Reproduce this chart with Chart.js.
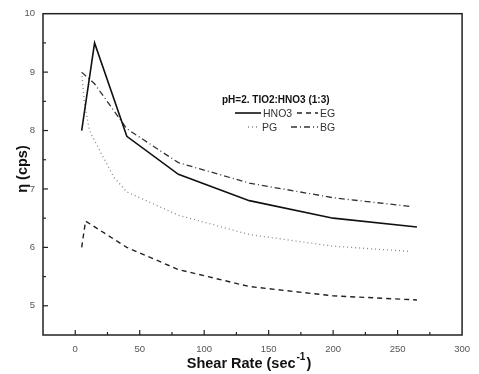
<!DOCTYPE html>
<html><head><meta charset="utf-8">
<script src="https://cdn.jsdelivr.net/npm/chart.js@4"></script>
<style>html,body{margin:0;padding:0;background:#fff}#wrap{width:479px;height:374px;position:relative}</style>
</head><body><div id="wrap"><canvas id="c" width="479" height="374"></canvas></div>
<script>
const hno3X = [5, 15, 40, 80, 135, 200, 265];
const hno3Y = [8.0, 9.5, 7.9, 7.25, 6.8, 6.5, 6.35];
const egX = [5, 8, 40, 80, 135, 200, 265];
const egY = [6.0, 6.45, 6.0, 5.62, 5.33, 5.17, 5.1];
const pgX = [5, 7, 11, 18, 30, 40, 80, 135, 200, 260];
const pgY = [9.0, 8.5, 8.0, 7.7, 7.2, 6.95, 6.55, 6.22, 6.02, 5.93];
const bgX = [5, 15, 40, 80, 135, 200, 260];
const bgY = [9.0, 8.8, 8.03, 7.45, 7.1, 6.85, 6.7];
const xTicks = [0, 50, 100, 150, 200, 250, 300];
const yTicks = [5, 6, 7, 8, 9, 10];
const legendTitle = 'pH=2. TIO2:HNO3 (1:3)';
const seriesNames = ['HNO3', 'EG', 'PG', 'BG'];

function pts(xs, ys){ return xs.map((x,i)=>({x:x, y:ys[i]})); }
const styles = [
  {color:'#111', dash:[], w:1.6},
  {color:'#222', dash:[5,4], w:1.4},
  {color:'#888', dash:[1,3], w:1.3},
  {color:'#333', dash:[6,3,1,3], w:1.3}
];
const data = [pts(hno3X,hno3Y), pts(egX,egY), pts(pgX,pgY), pts(bgX,bgY)];
const FF = '"Liberation Sans", Arial, sans-serif';

const decor = {
  id:'decor',
  afterDraw(chart){
    const ctx = chart.ctx, a = chart.chartArea, xs = chart.scales.x, ys = chart.scales.y;
    ctx.save();
    ctx.strokeStyle = '#222'; ctx.lineWidth = 1.5; ctx.setLineDash([]);
    ctx.strokeRect(a.left, a.top, a.right-a.left, a.bottom-a.top);
    ctx.lineWidth = 1.2;
    for (let v = 0; v <= 300; v += 25) {
      const px = xs.getPixelForValue(v);
      if (px <= a.left+1 || px >= a.right-1) continue;
      const len = (v % 50 === 0) ? 5 : 3;
      ctx.beginPath(); ctx.moveTo(px, a.bottom); ctx.lineTo(px, a.bottom-len); ctx.stroke();
    }
    for (let v = 5; v < 10; v += 0.5) {
      const py = ys.getPixelForValue(v);
      const len = (Math.abs(v - Math.round(v)) < 1e-6) ? 5 : 3;
      ctx.beginPath(); ctx.moveTo(a.left, py); ctx.lineTo(a.left+len, py); ctx.stroke();
    }
    // axis titles
    ctx.fillStyle = '#111';
    const big = 'bold 14.5px ' + FF, small = 'bold 10px ' + FF;
    ctx.textBaseline = 'alphabetic';
    const t1 = 'Shear Rate (sec', sup = '-1', t2 = ')';
    ctx.font = big; const w1 = ctx.measureText(t1).width; const w2 = ctx.measureText(t2).width;
    ctx.font = small; const ws = ctx.measureText(sup).width;
    let sx = 248 - (w1+ws+w2)/2;
    const by = 368;
    ctx.textAlign = 'left';
    ctx.font = big; ctx.fillText(t1, sx, by);
    ctx.font = small; ctx.fillText(sup, sx+w1+1, by-8);
    ctx.font = big; ctx.fillText(t2, sx+w1+ws+2, by);
    ctx.save();
    ctx.translate(27, 169);
    ctx.rotate(-Math.PI/2);
    ctx.textAlign = 'center';
    ctx.font = big;
    ctx.fillText('η (cps)', 0, 0);
    ctx.restore();
    // legend
    ctx.font = 'bold 10px ' + FF;
    ctx.textAlign = 'left';
    ctx.fillText(legendTitle, 222, 103);
    ctx.font = '10.5px ' + FF;
    ctx.fillStyle = '#333';
    const items = [
      {i:0, x1:235, x2:261, tx:263, y:113},
      {i:1, x1:297, x2:318, tx:320, y:113},
      {i:2, x1:248, x2:259, tx:262, y:127},
      {i:3, x1:291, x2:318, tx:320, y:127}
    ];
    items.forEach(it => {
      const s = styles[it.i];
      ctx.strokeStyle = s.color; ctx.lineWidth = s.w; ctx.setLineDash(s.dash);
      ctx.beginPath(); ctx.moveTo(it.x1, it.y); ctx.lineTo(it.x2, it.y); ctx.stroke();
      ctx.setLineDash([]);
      ctx.textBaseline = 'middle';
      ctx.fillText(seriesNames[it.i], it.tx, it.y+1);
    });
    ctx.restore();
  }
};

new Chart(document.getElementById('c'), {
  type: 'line',
  data: {
    datasets: data.map((d,i)=>({
      label: seriesNames[i], data: d,
      borderColor: styles[i].color, borderWidth: styles[i].w, borderDash: styles[i].dash,
      pointRadius: 0, fill: false, tension: 0
    }))
  },
  options: {
    responsive: false, animation: false, devicePixelRatio: 1,
    layout: {padding: {left: 0, right: 12, top: 12, bottom: 0}},
    plugins: {legend: {display: false}, tooltip: {enabled: false}},
    scales: {
      x: {
        type: 'linear', min: -25, max: 300,
        afterBuildTicks: s => { s.ticks = xTicks.map(v=>({value:v})); },
        afterFit: s => { s.height = 39; },
        grid: {display: false, drawTicks: false},
        border: {display: false},
        ticks: {color: '#555', font: {size: 9.5, family: FF}, padding: 9, maxRotation: 0}
      },
      y: {
        type: 'linear', min: 4.5, max: 10,
        afterBuildTicks: s => { s.ticks = yTicks.map(v=>({value:v})); },
        afterFit: s => { s.width = 43; },
        grid: {display: false, drawTicks: false},
        border: {display: false},
        ticks: {color: '#555', font: {size: 9.5, family: FF}, padding: 8}
      }
    }
  },
  plugins: [decor]
});
</script></body></html>
